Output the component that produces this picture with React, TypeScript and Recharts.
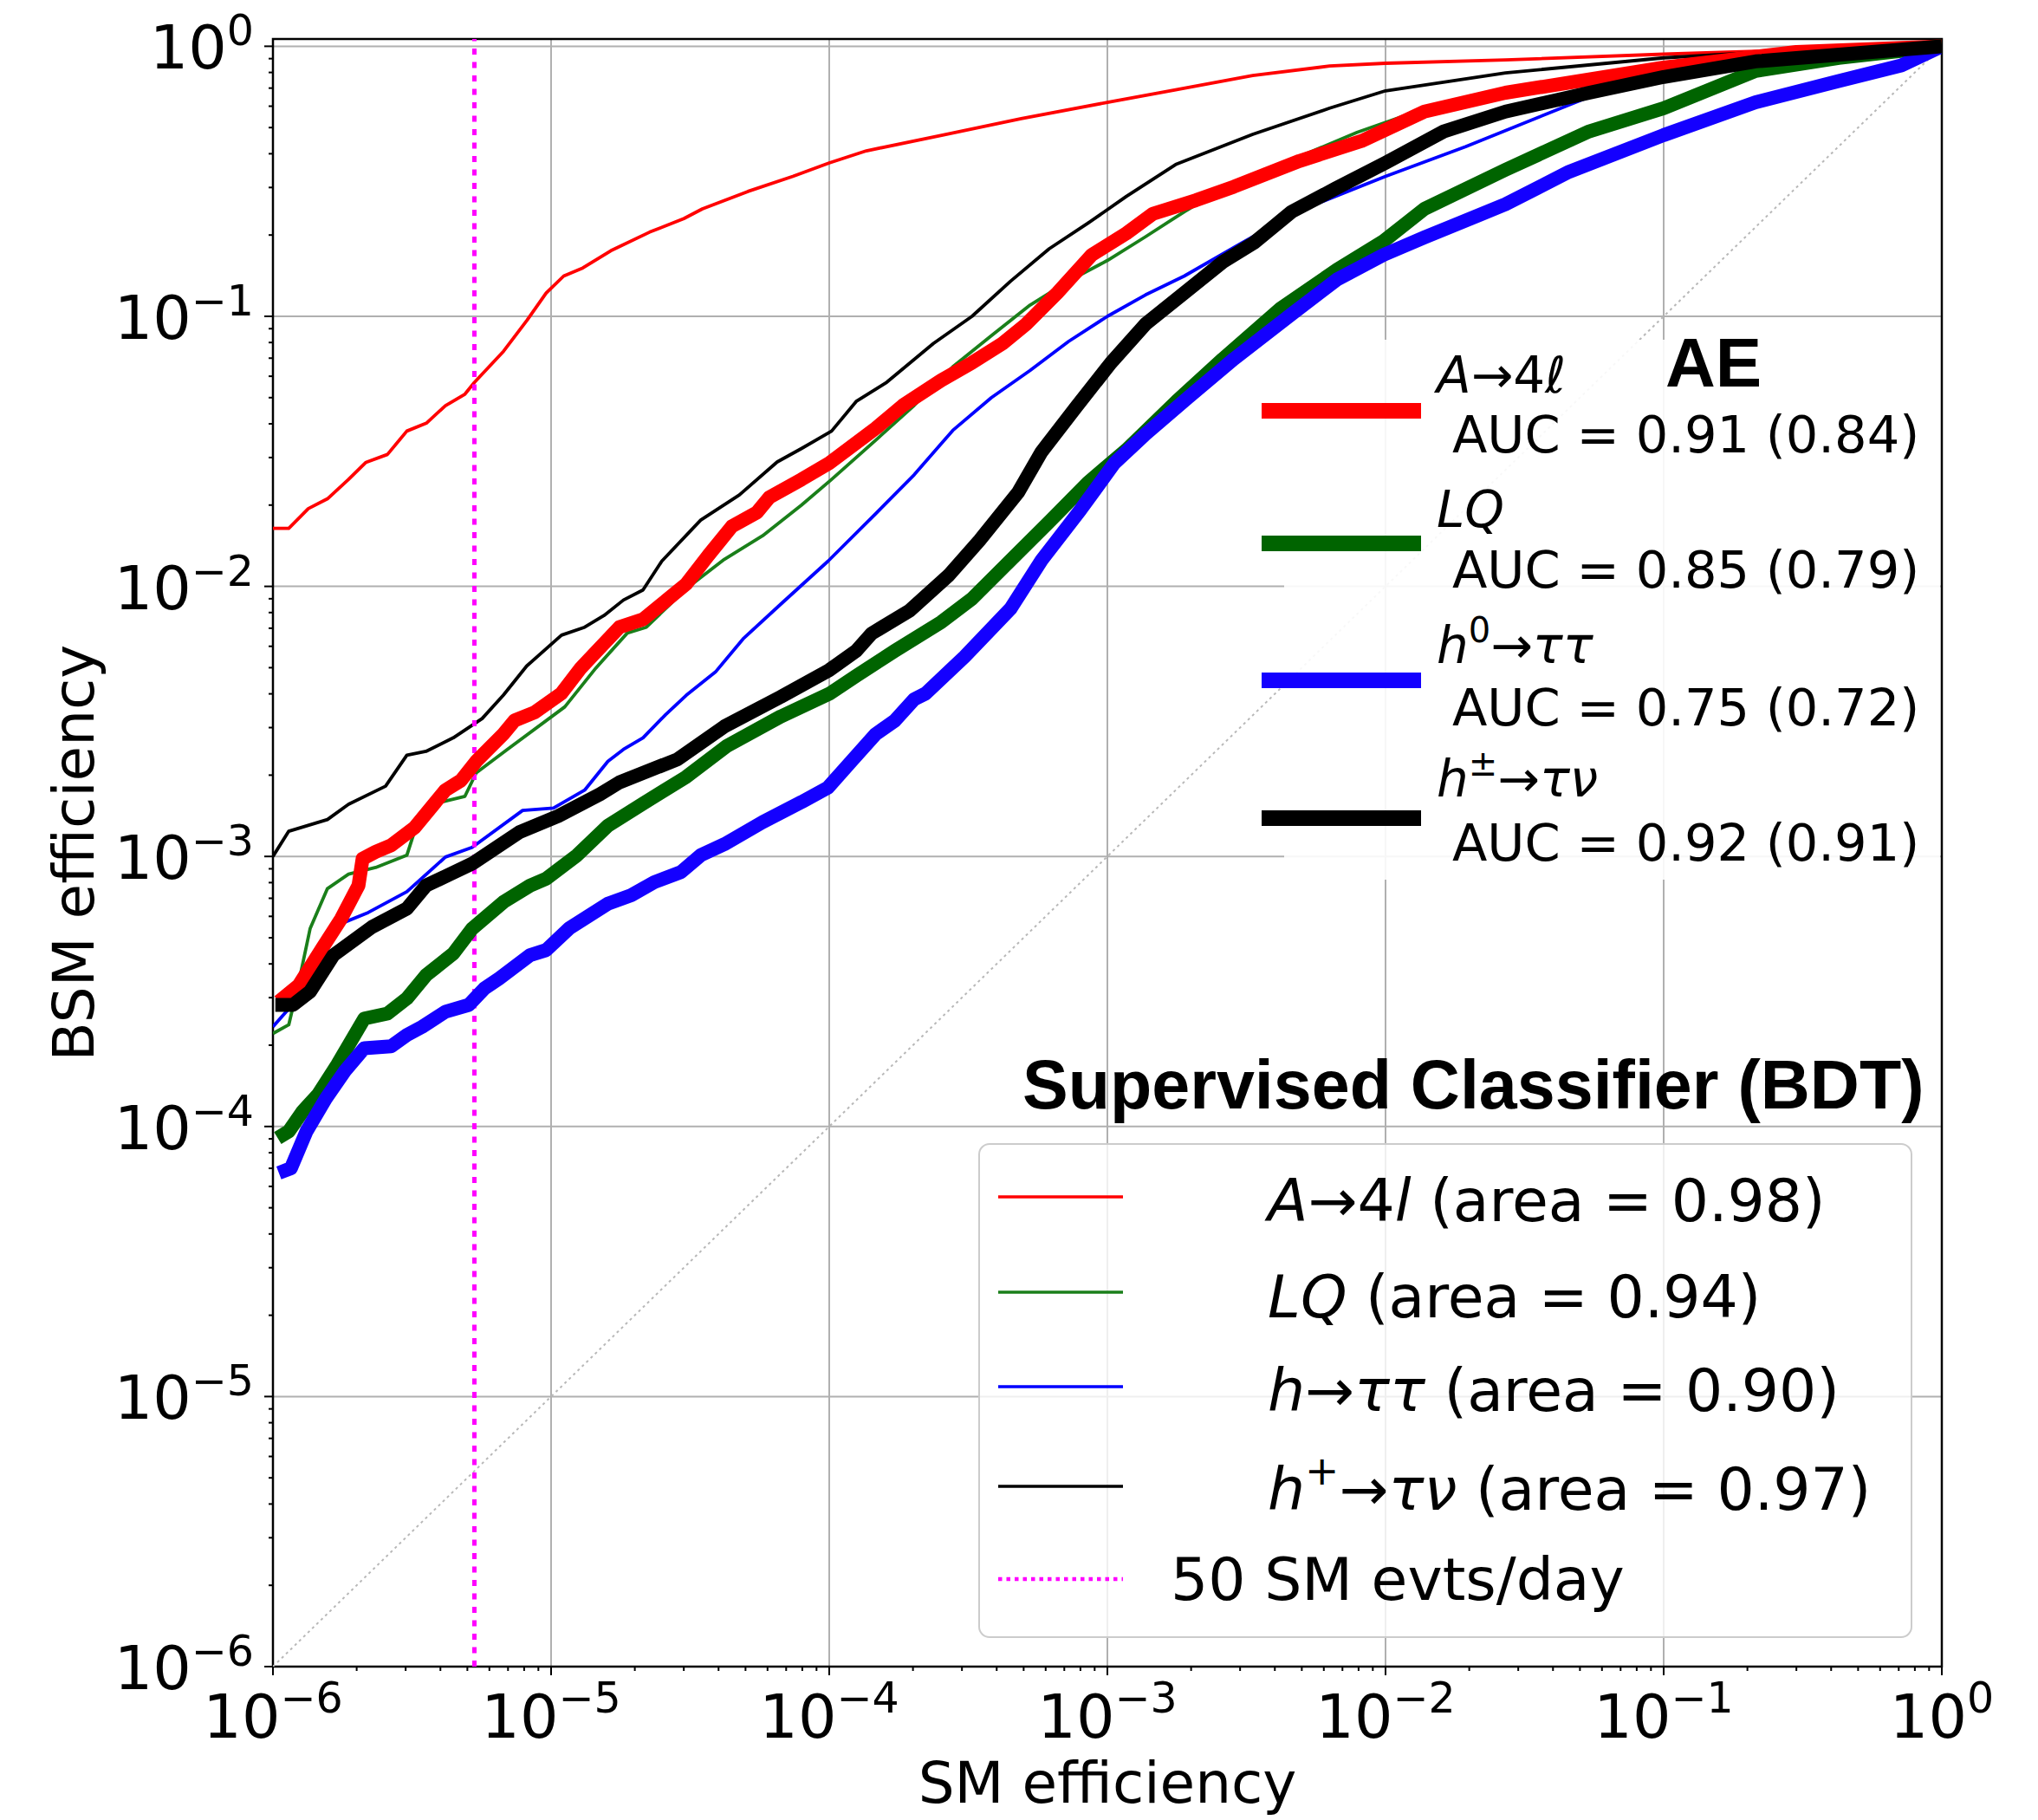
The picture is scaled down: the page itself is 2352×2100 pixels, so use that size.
import React from "react";
import { LineChart, Line, XAxis, YAxis, CartesianGrid, ReferenceArea } from "recharts";

// BDT (supervised) ROC curves, thin lines
const bdtA4lX = [1e-6, 1.14e-6, 1.34e-6, 1.57e-6, 1.87e-6, 2.16e-6, 2.58e-6, 3.03e-6, 3.56e-6, 4.17e-6, 4.9e-6, 5.3e-6, 6.75e-6, 8.2e-6, 9.6e-6, 1.11e-5, 1.3e-5, 1.64e-5, 2.26e-5, 3.0e-5, 3.5e-5, 5.1e-5, 7.4e-5, 1e-4, 1.36e-4, 2.58e-4, 4.9e-4, 1e-3, 1.76e-3, 3.33e-3, 6.3e-3, 1e-2, 2.7e-2, 0.1, 0.3, 1];
const bdtA4lY = [0.0164, 0.0164, 0.0194, 0.0211, 0.0249, 0.0288, 0.0308, 0.0376, 0.0402, 0.0467, 0.0515, 0.0569, 0.0743, 0.0968, 0.122, 0.141, 0.151, 0.175, 0.205, 0.23, 0.25, 0.29, 0.33, 0.37, 0.41, 0.47, 0.54, 0.62, 0.69, 0.78, 0.845, 0.865, 0.89, 0.935, 0.97, 1];

const bdtLqX = [1e-6, 1.14e-6, 1.24e-6, 1.36e-6, 1.57e-6, 1.87e-6, 2.34e-6, 3.03e-6, 3.23e-6, 4.04e-6, 4.9e-6, 5.38e-6, 6.96e-6, 1.12e-5, 1.45e-5, 1.88e-5, 2.2e-5, 3.06e-5, 4.2e-5, 5.76e-5, 7.95e-5, 1.02e-4, 1.47e-4, 2.02e-4, 2.78e-4, 3.83e-4, 5.27e-4, 7.25e-4, 1e-3, 1.37e-3, 1.89e-3, 2.6e-3, 4.9e-3, 7.9e-3, 1.4e-2, 2.7e-2, 0.1, 0.3, 1];
const bdtLqY = [2.21e-4, 2.38e-4, 3.44e-4, 5.4e-4, 7.6e-4, 8.6e-4, 9.1e-4, 1.01e-3, 1.24e-3, 1.59e-3, 1.67e-3, 2.04e-3, 2.49e-3, 3.58e-3, 4.99e-3, 6.72e-3, 7.06e-3, 9.8e-3, 0.0126, 0.0154, 0.02, 0.0249, 0.0348, 0.0468, 0.065, 0.0848, 0.11, 0.135, 0.161, 0.197, 0.244, 0.297, 0.39, 0.48, 0.59, 0.69, 0.85, 0.96, 1];

const bdtHttX = [1e-6, 1.14e-6, 1.36e-6, 1.7e-6, 2.2e-6, 3.03e-6, 4.17e-6, 5.2e-6, 7.9e-6, 1.02e-5, 1.32e-5, 1.6e-5, 1.82e-5, 2.14e-5, 2.58e-5, 3.06e-5, 3.9e-5, 4.9e-5, 6.7e-5, 9.9e-5, 1.47e-4, 2.02e-4, 2.78e-4, 3.83e-4, 5.27e-4, 7.25e-4, 1e-3, 1.37e-3, 1.89e-3, 3.04e-3, 4.9e-3, 1e-2, 1.94e-2, 5.4e-2, 0.1, 0.3, 1];
const bdtHttY = [2.34e-4, 2.73e-4, 3.96e-4, 5.56e-4, 6.2e-4, 7.4e-4, 9.95e-4, 1.08e-3, 1.48e-3, 1.51e-3, 1.76e-3, 2.25e-3, 2.49e-3, 2.75e-3, 3.35e-3, 3.95e-3, 4.82e-3, 6.39e-3, 8.6e-3, 0.0124, 0.0186, 0.0259, 0.0378, 0.05, 0.063, 0.0807, 0.1, 0.12, 0.141, 0.187, 0.246, 0.33, 0.425, 0.65, 0.76, 0.9, 1];

const bdtHtnX = [1e-6, 1.14e-6, 1.57e-6, 1.87e-6, 2.54e-6, 3.03e-6, 3.55e-6, 4.45e-6, 5.65e-6, 6.74e-6, 8.17e-6, 1.09e-5, 1.32e-5, 1.55e-5, 1.82e-5, 2.14e-5, 2.5e-5, 3.45e-5, 4.75e-5, 6.5e-5, 7.95e-5, 1.02e-4, 1.25e-4, 1.61e-4, 2.37e-4, 3.26e-4, 4.49e-4, 6.18e-4, 8.5e-4, 1.17e-3, 1.76e-3, 3.33e-3, 6.3e-3, 1e-2, 2.7e-2, 0.1, 0.3, 1];
const bdtHtnY = [1.0e-3, 1.24e-3, 1.37e-3, 1.56e-3, 1.82e-3, 2.37e-3, 2.45e-3, 2.75e-3, 3.24e-3, 3.96e-3, 5.07e-3, 6.6e-3, 7.06e-3, 7.8e-3, 8.9e-3, 9.7e-3, 0.0124, 0.0176, 0.0218, 0.0289, 0.0324, 0.0376, 0.0484, 0.057, 0.0794, 0.1, 0.135, 0.178, 0.221, 0.278, 0.365, 0.472, 0.59, 0.684, 0.797, 0.906, 0.968, 1];

// autoencoder ROC curves, thick lines
const aeA4lX = [1.05e-6, 1.24e-6, 1.5e-6, 1.76e-6, 2.03e-6, 2.1e-6, 2.34e-6, 2.66e-6, 3.23e-6, 4.17e-6, 4.74e-6, 5.38e-6, 6.74e-6, 7.4e-6, 8.7e-6, 1.09e-5, 1.28e-5, 1.76e-5, 2.14e-5, 2.5e-5, 3.06e-5, 3.67e-5, 4.47e-5, 5.5e-5, 6.1e-5, 7.95e-5, 1e-4, 1.47e-4, 1.84e-4, 2.53e-4, 3.26e-4, 4.2e-4, 5.1e-4, 6.6e-4, 8.8e-4, 1.17e-3, 1.46e-3, 2.08e-3, 2.85e-3, 4.9e-3, 8.2e-3, 1.38e-2, 2.7e-2, 0.1, 0.3, 1];
const aeA4lY = [2.9e-4, 3.34e-4, 4.56e-4, 5.89e-4, 7.8e-4, 9.8e-4, 1.04e-3, 1.1e-3, 1.28e-3, 1.76e-3, 1.91e-3, 2.25e-3, 2.84e-3, 3.19e-3, 3.41e-3, 4.02e-3, 4.99e-3, 7.06e-3, 7.55e-3, 8.6e-3, 0.0102, 0.013, 0.0167, 0.0188, 0.0214, 0.0249, 0.0286, 0.0385, 0.0468, 0.058, 0.0673, 0.0794, 0.0935, 0.122, 0.169, 0.203, 0.24, 0.269, 0.302, 0.376, 0.446, 0.573, 0.673, 0.834, 0.953, 1];

const aeLqX = [1.04e-6, 1.14e-6, 1.28e-6, 1.45e-6, 1.7e-6, 2.13e-6, 2.58e-6, 3.03e-6, 3.55e-6, 4.45e-6, 5.2e-6, 6.74e-6, 8.4e-6, 9.6e-6, 1.24e-5, 1.6e-5, 2.14e-5, 3.06e-5, 4.3e-5, 6.7e-5, 1e-4, 1.25e-4, 1.72e-4, 2.53e-4, 3.26e-4, 4.49e-4, 6.2e-4, 8.5e-4, 1.17e-3, 1.77e-3, 2.6e-3, 4.2e-3, 6.7e-3, 9.85e-3, 1.38e-2, 2.7e-2, 5.4e-2, 0.1, 0.214, 0.426, 1];
const aeLqY = [9.06e-5, 9.6e-5, 1.14e-4, 1.31e-4, 1.69e-4, 2.51e-4, 2.62e-4, 2.98e-4, 3.63e-4, 4.37e-4, 5.4e-4, 6.78e-4, 7.8e-4, 8.27e-4, 1.01e-3, 1.3e-3, 1.57e-3, 1.97e-3, 2.57e-3, 3.3e-3, 4.0e-3, 4.66e-3, 5.77e-3, 7.38e-3, 9.0e-3, 0.0125, 0.0174, 0.0242, 0.032, 0.0484, 0.0695, 0.107, 0.149, 0.19, 0.25, 0.349, 0.484, 0.59, 0.81, 0.906, 1];

const aeHttX = [1.05e-6, 1.16e-6, 1.32e-6, 1.55e-6, 1.81e-6, 2.13e-6, 2.66e-6, 3.03e-6, 3.44e-6, 4.17e-6, 5.06e-6, 5.75e-6, 6.5e-6, 8.4e-6, 9.6e-6, 1.16e-5, 1.6e-5, 1.94e-5, 2.35e-5, 2.93e-5, 3.45e-5, 4.2e-5, 5.76e-5, 7.95e-5, 9.9e-5, 1.2e-4, 1.47e-4, 1.72e-4, 2.02e-4, 2.22e-4, 3.06e-4, 4.49e-4, 5.8e-4, 8e-4, 1.06e-3, 1.37e-3, 1.95e-3, 2.85e-3, 4.6e-3, 6.7e-3, 9.85e-3, 1.38e-2, 2.7e-2, 4.57e-2, 0.1, 0.214, 0.426, 0.715, 1];
const aeHttY = [6.73e-5, 7.0e-5, 9.6e-5, 1.27e-4, 1.6e-4, 1.95e-4, 1.98e-4, 2.18e-4, 2.34e-4, 2.66e-4, 2.82e-4, 3.24e-4, 3.53e-4, 4.31e-4, 4.5e-4, 5.41e-4, 6.68e-4, 7.18e-4, 8.03e-4, 8.75e-4, 1.01e-3, 1.11e-3, 1.34e-3, 1.59e-3, 1.8e-3, 2.25e-3, 2.84e-3, 3.18e-3, 3.82e-3, 4.01e-3, 5.48e-3, 8.28e-3, 0.0125, 0.0192, 0.0286, 0.0366, 0.05, 0.0695, 0.102, 0.137, 0.169, 0.196, 0.26, 0.343, 0.469, 0.62, 0.743, 0.849, 1];

const aeHtnX = [1.02e-6, 1.18e-6, 1.36e-6, 1.65e-6, 2.27e-6, 3.03e-6, 3.55e-6, 5.2e-6, 7.7e-6, 1.06e-5, 1.5e-5, 1.76e-5, 2.85e-5, 4.2e-5, 6.7e-5, 1e-4, 1.25e-4, 1.42e-4, 1.95e-4, 2.69e-4, 3.47e-4, 4.78e-4, 5.8e-4, 7.7e-4, 1.03e-3, 1.37e-3, 1.89e-3, 2.6e-3, 3.36e-3, 4.6e-3, 6.6e-3, 1e-2, 1.62e-2, 2.7e-2, 5.4e-2, 0.1, 0.214, 1];
const aeHtnY = [2.82e-4, 2.82e-4, 3.16e-4, 4.31e-4, 5.48e-4, 6.41e-4, 7.8e-4, 9.4e-4, 1.23e-3, 1.41e-3, 1.7e-3, 1.88e-3, 2.29e-3, 3.03e-3, 3.9e-3, 4.9e-3, 5.77e-3, 6.69e-3, 8.15e-3, 0.011, 0.0148, 0.0223, 0.0315, 0.046, 0.0673, 0.0935, 0.122, 0.159, 0.187, 0.244, 0.297, 0.37, 0.484, 0.573, 0.673, 0.77, 0.879, 1];

const diagX = [1e-6, 1];
const smRateCut = 5.3e-6; // 50 SM evts/day
const yTop = 1.064;

const aeLabels = ["A→4ℓ", "LQ", "h0→ττ", "h±→τν"];
const aeAuc = ["0.91 (0.84)", "0.85 (0.79)", "0.75 (0.72)", "0.92 (0.91)"];
const bdtArea = ["0.98", "0.94", "0.90", "0.97"];

const RED = "#ff0000";
const GREEN_THIN = "#1a7f1a";
const GREEN = "#006400";
const BLUE_THIN = "#0000ff";
const BLUE = "#1400ff";
const MAGENTA = "#ff00ff";
const FONT = "DejaVu Sans";

const zip = (xs: number[], ys: number[]) => xs.map((x, i) => ({ x, y: ys[i] }));

const majors = [-6, -5, -4, -3, -2, -1, 0].map((e) => Math.pow(10, e));
const minors: number[] = [];
for (let e = -6; e < 0; e++) for (let k = 2; k < 10; k++) minors.push(k * Math.pow(10, e));
const allTicks = [...majors, ...minors].sort((a, b) => a - b);

const expOf = (v: number) => {
  const lg = Math.log10(v);
  const e = Math.round(lg);
  return { e, major: Math.abs(lg - e) < 1e-6 };
};
const expText = (e: number) => (e === 0 ? "0" : "−" + -e);

const XTick = (props: any) => {
  const { x, y, payload } = props;
  const { e, major } = expOf(payload.value);
  return (
    <g>
      <line x1={x} x2={x} y1={y} y2={y + (major ? 10 : 5)} stroke="#000" strokeWidth={2} />
      {major && (
        <text x={x} y={y + 82} textAnchor="middle" fontSize={70} fontFamily={FONT} fill="#000">
          10<tspan dy={-29} fontSize={49}>{expText(e)}</tspan>
        </text>
      )}
    </g>
  );
};

const YTick = (props: any) => {
  const { x, y, payload } = props;
  const { e, major } = expOf(payload.value);
  return (
    <g>
      <line x1={x - (major ? 10 : 5)} x2={x} y1={y} y2={y} stroke="#000" strokeWidth={2} />
      {major && (
        <text x={x - 22} y={y + 26} textAnchor="end" fontSize={70} fontFamily={FONT} fill="#000">
          10<tspan dy={-27} fontSize={49}>{expText(e)}</tspan>
        </text>
      )}
    </g>
  );
};

const thin = (key: string, xs: number[], ys: number[], color: string) => (
  <Line key={key} data={zip(xs, ys)} dataKey="y" type="linear" stroke={color} strokeWidth={3.8}
    dot={false} isAnimationActive={false} strokeLinejoin="round" />
);
const thick = (key: string, xs: number[], ys: number[], color: string) => (
  <Line key={key} data={zip(xs, ys)} dataKey="y" type="linear" stroke={color} strokeWidth={16}
    dot={false} isAnimationActive={false} strokeLinejoin="round" />
);

function AeName({ i }: { i: number }) {
  if (i === 0) return (<><tspan fontStyle="italic">A</tspan><tspan>→4</tspan><tspan fontStyle="italic">ℓ</tspan></>);
  if (i === 1) return <tspan fontStyle="italic">LQ</tspan>;
  if (i === 2) return (<><tspan fontStyle="italic">h</tspan><tspan fontSize={40} dy={-24}>0</tspan><tspan dy={24}>→</tspan><tspan fontStyle="italic">ττ</tspan></>);
  return (<><tspan fontStyle="italic">h</tspan><tspan fontSize={40} dy={-24}>±</tspan><tspan dy={24}>→</tspan><tspan fontStyle="italic">τν</tspan></>);
}

function BdtName({ i }: { i: number }) {
  if (i === 0) return (<><tspan fontStyle="italic">A</tspan><tspan>→4</tspan><tspan fontStyle="italic">l</tspan></>);
  if (i === 1) return <tspan fontStyle="italic">LQ</tspan>;
  if (i === 2) return (<><tspan fontStyle="italic">h</tspan><tspan>→</tspan><tspan fontStyle="italic">ττ</tspan></>);
  return (<><tspan fontStyle="italic">h</tspan><tspan fontSize={47} dy={-29}>+</tspan><tspan dy={29}>→</tspan><tspan fontStyle="italic">τν</tspan></>);
}

export default function App() {
  const aeColors = [RED, GREEN, BLUE, "#000"];
  const bdtColors = [RED, GREEN_THIN, BLUE_THIN, "#000"];
  const aeSwatchY = [474, 627, 785, 944];
  const aeNameY = [453, 608, 765, 919];
  const aeAucY = [522, 678, 837, 993];
  const bdtLineY = [1381, 1491, 1600, 1715];
  const bdtTextY = [1409, 1520, 1628, 1742];

  return (
    <div style={{ position: "absolute", left: 0, top: 0, width: 2352, height: 2100, background: "#fff" }}>
      <LineChart width={2352} height={2100} margin={{ top: 45, right: 111, bottom: 77, left: 100 }}>
        <CartesianGrid horizontalValues={majors} verticalValues={majors} stroke="#b0b0b0" strokeWidth={2} />
        <XAxis dataKey="x" type="number" scale="log" domain={[1e-6, 1]} allowDataOverflow ticks={allTicks}
          interval={0} height={100} tickSize={0} tickMargin={0} axisLine={false} tickLine={false} tick={<XTick />} />
        <YAxis dataKey="y" type="number" scale="log" domain={[1e-6, yTop]} allowDataOverflow ticks={allTicks}
          interval={0} width={215} tickSize={0} tickMargin={0} axisLine={false} tickLine={false} tick={<YTick />} />
        <Line data={zip(diagX, diagX)} dataKey="y" stroke="#b8b8b8" strokeWidth={2} strokeDasharray="3 4"
          dot={false} isAnimationActive={false} />
        {thin("bdtA4l", bdtA4lX, bdtA4lY, RED)}
        {thin("bdtLq", bdtLqX, bdtLqY, GREEN_THIN)}
        {thin("bdtHtt", bdtHttX, bdtHttY, BLUE_THIN)}
        {thin("bdtHtn", bdtHtnX, bdtHtnY, "#000")}
        <Line data={[{ x: smRateCut, y: 1e-6 }, { x: smRateCut, y: yTop }]} dataKey="y" stroke={MAGENTA}
          strokeWidth={5} strokeDasharray="7 8.5" dot={false} isAnimationActive={false} />
        {thick("aeA4l", aeA4lX, aeA4lY, RED)}
        {thick("aeLq", aeLqX, aeLqY, GREEN)}
        {thick("aeHtt", aeHttX, aeHttY, BLUE)}
        {thick("aeHtn", aeHtnX, aeHtnY, "#000")}
        <ReferenceArea x1={1e-6} x2={1} y1={1e-6} y2={yTop} fill="none" fillOpacity={0} stroke="#000"
          strokeWidth={2.5} ifOverflow="visible" />
      </LineChart>

      <svg width={2352} height={2100} style={{ position: "absolute", left: 0, top: 0, pointerEvents: "none" }}
        fontFamily={FONT}>
        <text x={108} y={984} transform="rotate(-90 108 984)" textAnchor="middle" fontSize={66}>BSM efficiency</text>
        <text x={1278} y={2080} textAnchor="middle" fontSize={66}>SM efficiency</text>

        {/* AE legend */}
        <rect x={1482} y={392} width={757} height={623} fill="#fff" fillOpacity={0.9} />
        <text x={1922} y={446} fontSize={80} fontWeight="bold" fontFamily="Liberation Sans">AE</text>
        {aeLabels.map((_, i) => (
          <g key={i}>
            <rect x={1456} y={aeSwatchY[i] - 9} width={184} height={18} fill={aeColors[i]} />
            <text x={1658} y={aeNameY[i]} fontSize={58}><AeName i={i} /></text>
            <text x={1676} y={aeAucY[i]} fontSize={59}>{"AUC = " + aeAuc[i]}</text>
          </g>
        ))}

        {/* BDT legend */}
        <text x={1180} y={1279} fontSize={79} fontWeight="bold" fontFamily="Liberation Sans">Supervised Classifier (BDT)</text>
        <rect x={1130} y={1320} width={1076} height={569} rx={12} fill="#fff" fillOpacity={0.8} stroke="#cccccc" strokeWidth={2} />
        {bdtArea.map((a, i) => (
          <g key={i}>
            <line x1={1152} x2={1296} y1={bdtLineY[i]} y2={bdtLineY[i]} stroke={bdtColors[i]} strokeWidth={3.5} />
            <text x={1463} y={bdtTextY[i]} fontSize={68}><BdtName i={i} /><tspan>{" (area = " + a + ")"}</tspan></text>
          </g>
        ))}
        <line x1={1152} x2={1296} y1={1822} y2={1822} stroke={MAGENTA} strokeWidth={4.5} strokeDasharray="4.5 5" />
        <text x={1351} y={1846} fontSize={68}>50 SM evts/day</text>
      </svg>
    </div>
  );
}
